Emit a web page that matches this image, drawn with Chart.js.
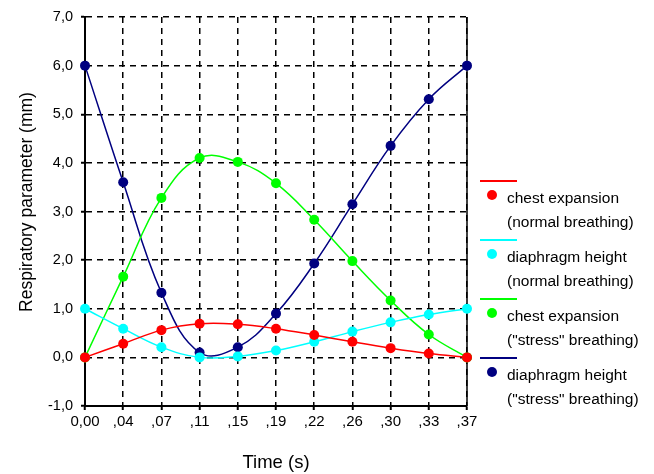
<!DOCTYPE html>
<html>
<head>
<meta charset="utf-8">
<script src="https://cdn.jsdelivr.net/npm/chart.js@4/dist/chart.umd.min.js"></script>
<style>
  body { margin: 0; background: #fff; font-family: "Liberation Sans", Arial, sans-serif; }
  #wrap { position: relative; width: 654px; height: 474px; }
  .lg-line { position: absolute; left: 480px; width: 37px; height: 1.5px; }
  .lg-dot { position: absolute; left: 487px; width: 10px; height: 10px; border-radius: 50%; }
  .lg-txt { position: absolute; left: 507px; font-size: 15.5px; line-height: 24px; color: #000; white-space: nowrap; }
</style>
</head>
<body>
<div id="wrap">
  <canvas id="respChart" width="654" height="474"></canvas>
  <div id="legend"></div>
</div>
<script>
const timeLabels = ['0,00', ',04', ',07', ',11', ',15', ',19', ',22', ',26', ',30', ',33', ',37'];
const yTickLabels = ['-1,0', '0,0', '1,0', '2,0', '3,0', '4,0', '5,0', '6,0', '7,0'];

const chestNormal = [0, 0.28, 0.56, 0.69, 0.68, 0.59, 0.46, 0.32, 0.19, 0.08, 0];
const diaphNormal = [1.0, 0.59, 0.21, 0.0, 0.02, 0.14, 0.32, 0.53, 0.72, 0.88, 1.0];
const chestStress = [0, 1.66, 3.28, 4.10, 4.02, 3.58, 2.83, 1.98, 1.17, 0.47, 0];
const diaphStress = [6.0, 3.60, 1.33, 0.10, 0.21, 0.90, 1.93, 3.15, 4.35, 5.31, 6.0];

const seriesNames = [
  ['chest expansion', '(normal breathing)'],
  ['diaphragm height', '(normal breathing)'],
  ['chest expansion', '("stress" breathing)'],
  ['diaphragm height', '("stress" breathing)']
];
const seriesColors = ['#ff0000', '#00ffff', '#00ff00', '#000080'];
const seriesData = [chestNormal, diaphNormal, chestStress, diaphStress];

Chart.defaults.font.family = '"Liberation Sans", Arial, sans-serif';
Chart.defaults.color = '#000';

// solid right edge + rotated y title
const frame = {
  id: 'frame',
  beforeDatasetsDraw(chart) {
    const { ctx, chartArea: a } = chart;
    ctx.save();
    ctx.strokeStyle = '#000';
    ctx.lineWidth = 1.5;
    ctx.beginPath();
    ctx.moveTo(a.right, a.top);
    ctx.lineTo(a.right, a.bottom);
    ctx.stroke();
    ctx.restore();
  },
  afterDraw(chart) {
    const ctx = chart.ctx;
    ctx.save();
    ctx.font = '17.5px "Liberation Sans", Arial, sans-serif';
    ctx.fillStyle = '#000';
    ctx.translate(27, 202);
    ctx.rotate(-Math.PI / 2);
    ctx.textAlign = 'center';
    ctx.textBaseline = 'middle';
    ctx.fillText('Respiratory parameter (mm)', 0, 0);
    ctx.restore();
  }
};

const gridOpts = { color: '#000', lineWidth: 1.5, tickLength: 4, tickWidth: 2, tickColor: '#000' };
const borderOpts = { color: '#000', width: 2, dash: [6, 5] };

new Chart(document.getElementById('respChart'), {
  type: 'line',
  data: {
    labels: timeLabels,
    datasets: seriesData.map((d, i) => ({
      label: seriesNames[i].join(' '),
      data: d,
      borderColor: seriesColors[i],
      backgroundColor: seriesColors[i],
      borderWidth: 1.5,
      pointRadius: 5,
      pointBorderWidth: 0,
      tension: 0.4,
      clip: false
    }))
  },
  options: {
    responsive: false,
    animation: false,
    devicePixelRatio: 1,
    layout: { padding: { top: 17, right: 187, left: 0, bottom: 0 } },
    plugins: { legend: { display: false }, tooltip: { enabled: false } },
    scales: {
      x: {
        offset: false,
        grid: gridOpts,
        border: borderOpts,
        ticks: { font: { size: 15 }, padding: 3, maxRotation: 0, autoSkip: false },
        title: { display: true, text: 'Time (s)', font: { size: 18.5 }, padding: { top: 0, bottom: 0 } },
        afterFit(s) { s.height = 68; }
      },
      y: {
        min: -1,
        max: 7,
        grid: gridOpts,
        border: borderOpts,
        ticks: { stepSize: 1, font: { size: 14.5 }, padding: 8, callback: (v, i) => yTickLabels[i] },
        afterFit(s) { s.width = 85; }
      }
    }
  },
  plugins: [frame]
});

// legend: line, dot, two-line label per series
const lg = document.getElementById('legend');
seriesNames.forEach((name, i) => {
  const y = 181 + i * 59;
  lg.insertAdjacentHTML('beforeend',
    `<div class="lg-line" style="top:${y - 1}px;background:${seriesColors[i]}"></div>
     <div class="lg-dot" style="top:${y + 9}px;background:${seriesColors[i]}"></div>
     <div class="lg-txt" style="top:${y + 5}px">${name[0]}<br>${name[1]}</div>`);
});
</script>
</body>
</html>
